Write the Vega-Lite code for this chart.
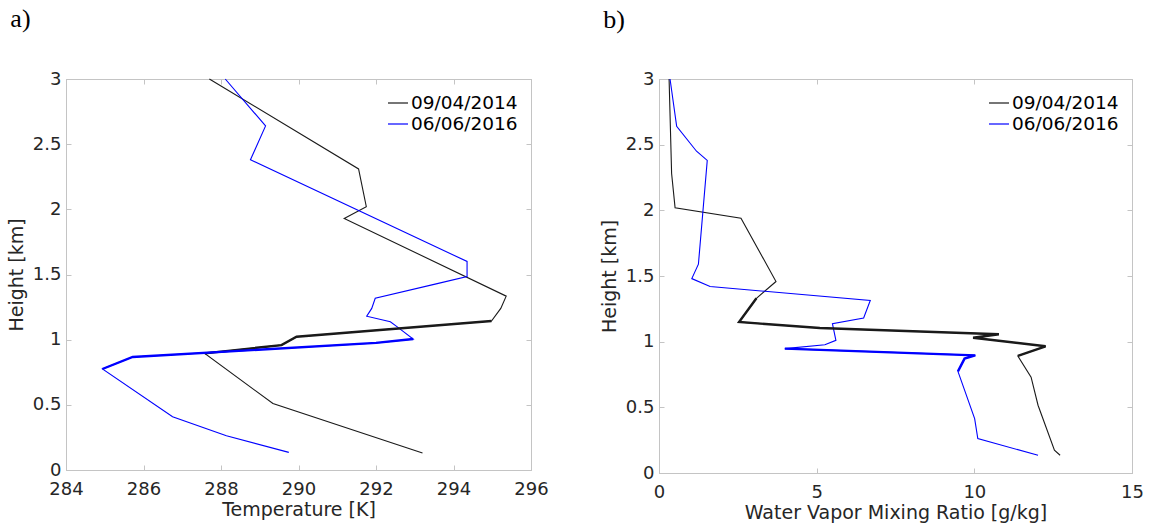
{
  "$schema": "https://vega.github.io/schema/vega-lite/v6.json",
  "background": "white",
  "padding": {"left": 6, "top": 5, "right": 5, "bottom": 5},
  "datasets": {
    "temp": [
      {"s": "09/04/2014", "t": 293.2, "h": 0.13},
      {"s": "09/04/2014", "t": 289.34, "h": 0.51},
      {"s": "09/04/2014", "t": 287.58, "h": 0.895},
      {"s": "09/04/2014", "t": 289.56, "h": 0.958},
      {"s": "09/04/2014", "t": 289.95, "h": 1.022},
      {"s": "09/04/2014", "t": 292.1, "h": 1.074},
      {"s": "09/04/2014", "t": 294.98, "h": 1.143},
      {"s": "09/04/2014", "t": 295.22, "h": 1.24},
      {"s": "09/04/2014", "t": 295.36, "h": 1.334},
      {"s": "09/04/2014", "t": 291.18, "h": 1.93},
      {"s": "09/04/2014", "t": 291.75, "h": 2.02},
      {"s": "09/04/2014", "t": 291.55, "h": 2.31},
      {"s": "09/04/2014", "t": 287.7, "h": 3.0},
      {"s": "06/06/2016", "t": 289.75, "h": 0.135},
      {"s": "06/06/2016", "t": 288.14, "h": 0.263},
      {"s": "06/06/2016", "t": 286.75, "h": 0.409},
      {"s": "06/06/2016", "t": 284.94, "h": 0.775},
      {"s": "06/06/2016", "t": 285.72, "h": 0.867},
      {"s": "06/06/2016", "t": 292.0, "h": 0.975},
      {"s": "06/06/2016", "t": 292.96, "h": 1.005},
      {"s": "06/06/2016", "t": 292.54, "h": 1.1},
      {"s": "06/06/2016", "t": 292.37, "h": 1.137},
      {"s": "06/06/2016", "t": 291.76, "h": 1.18},
      {"s": "06/06/2016", "t": 291.89, "h": 1.24},
      {"s": "06/06/2016", "t": 291.98, "h": 1.318},
      {"s": "06/06/2016", "t": 293.58, "h": 1.43},
      {"s": "06/06/2016", "t": 294.35, "h": 1.485},
      {"s": "06/06/2016", "t": 294.35, "h": 1.6},
      {"s": "06/06/2016", "t": 288.76, "h": 2.38},
      {"s": "06/06/2016", "t": 289.15, "h": 2.64},
      {"s": "06/06/2016", "t": 288.11, "h": 3.0}
    ],
    "wv": [
      {"s": "09/04/2014", "w": 12.72, "h": 0.135},
      {"s": "09/04/2014", "w": 12.54, "h": 0.173},
      {"s": "09/04/2014", "w": 12.02, "h": 0.516},
      {"s": "09/04/2014", "w": 11.8, "h": 0.73},
      {"s": "09/04/2014", "w": 11.38, "h": 0.891},
      {"s": "09/04/2014", "w": 12.26, "h": 0.965},
      {"s": "09/04/2014", "w": 9.96, "h": 1.03},
      {"s": "09/04/2014", "w": 10.78, "h": 1.056},
      {"s": "09/04/2014", "w": 5.1, "h": 1.104},
      {"s": "09/04/2014", "w": 2.54, "h": 1.15},
      {"s": "09/04/2014", "w": 3.09, "h": 1.33},
      {"s": "09/04/2014", "w": 3.71, "h": 1.458},
      {"s": "09/04/2014", "w": 2.6, "h": 1.94},
      {"s": "09/04/2014", "w": 0.51, "h": 2.02},
      {"s": "09/04/2014", "w": 0.4, "h": 2.28},
      {"s": "09/04/2014", "w": 0.32, "h": 3.0},
      {"s": "06/06/2016", "w": 12.02, "h": 0.135},
      {"s": "06/06/2016", "w": 10.11, "h": 0.262},
      {"s": "06/06/2016", "w": 10.01, "h": 0.414},
      {"s": "06/06/2016", "w": 9.48, "h": 0.774},
      {"s": "06/06/2016", "w": 9.69, "h": 0.871},
      {"s": "06/06/2016", "w": 10.03, "h": 0.896},
      {"s": "06/06/2016", "w": 3.99, "h": 0.947},
      {"s": "06/06/2016", "w": 5.26, "h": 0.977},
      {"s": "06/06/2016", "w": 5.61, "h": 1.01},
      {"s": "06/06/2016", "w": 5.5, "h": 1.137},
      {"s": "06/06/2016", "w": 6.49, "h": 1.18},
      {"s": "06/06/2016", "w": 6.7, "h": 1.314},
      {"s": "06/06/2016", "w": 1.62, "h": 1.42},
      {"s": "06/06/2016", "w": 1.04, "h": 1.48},
      {"s": "06/06/2016", "w": 1.25, "h": 1.59},
      {"s": "06/06/2016", "w": 1.53, "h": 2.38},
      {"s": "06/06/2016", "w": 1.19, "h": 2.45},
      {"s": "06/06/2016", "w": 0.56, "h": 2.64},
      {"s": "06/06/2016", "w": 0.35, "h": 3.0}
    ]
  },
  "hconcat": [
    {
      "width": 465,
      "height": 391,
      "data": {"name": "temp"},
      "title": {"text": "a)", "frame": "bounds", "anchor": "start", "offset": 38, "dx": 3},
      "layer": [
        {
          "mark": {"type": "line", "strokeWidth": 1.1},
          "encoding": {
            "x": {"field": "t", "type": "quantitative", "scale": {"domain": [284, 296], "nice": false, "zero": false},
              "axis": {"orient": "bottom", "values": [284, 286, 288, 290, 292, 294, 296], "title": "Temperature [K]"}},
            "y": {"field": "h", "type": "quantitative", "scale": {"domain": [0, 3], "nice": false},
              "axis": {"orient": "left", "values": [0, 0.5, 1, 1.5, 2, 2.5, 3], "format": "~g", "title": "Height [km]"}},
            "color": {"field": "s", "type": "nominal", "scale": {"domain": ["09/04/2014", "06/06/2016"], "range": ["#1a1a1a", "#0000ff"]}, "legend": {"title": null}},
            "order": {"field": "h", "type": "quantitative"}
          }
        },
        {
          "transform": [{"filter": "(datum.s == '09/04/2014' && datum.h >= 0.89 && datum.h <= 1.15) || (datum.s == '06/06/2016' && datum.h >= 0.77 && datum.h <= 1.01)"}],
          "mark": {"type": "line", "strokeWidth": 2.4},
          "encoding": {
            "x": {"field": "t", "type": "quantitative", "axis": null},
            "y": {"field": "h", "type": "quantitative", "axis": null},
            "color": {"field": "s", "type": "nominal", "legend": null},
            "order": {"field": "h", "type": "quantitative"}
          }
        },
        {
          "mark": {"type": "line", "opacity": 0},
          "encoding": {
            "x": {"field": "t", "type": "quantitative", "axis": {"orient": "top", "values": [284, 286, 288, 290, 292, 294, 296], "labels": false, "title": null}},
            "y": {"field": "h", "type": "quantitative", "axis": {"orient": "right", "values": [0, 0.5, 1, 1.5, 2, 2.5, 3], "labels": false, "title": null}}
          }
        }
      ],
      "resolve": {"axis": {"x": "independent", "y": "independent"}}
    },
    {
      "width": 473,
      "height": 394,
      "data": {"name": "wv"},
      "title": {"text": "b)", "frame": "bounds", "anchor": "start", "offset": 37, "dx": 3},
      "layer": [
        {
          "mark": {"type": "line", "strokeWidth": 1.1},
          "encoding": {
            "x": {"field": "w", "type": "quantitative", "scale": {"domain": [0, 15], "nice": false},
              "axis": {"orient": "bottom", "values": [0, 5, 10, 15], "title": "Water Vapor Mixing Ratio [g/kg]"}},
            "y": {"field": "h", "type": "quantitative", "scale": {"domain": [0, 3], "nice": false},
              "axis": {"orient": "left", "values": [0, 0.5, 1, 1.5, 2, 2.5, 3], "format": "~g", "title": "Height [km]"}},
            "color": {"field": "s", "type": "nominal", "scale": {"domain": ["09/04/2014", "06/06/2016"], "range": ["#1a1a1a", "#0000ff"]}, "legend": {"title": null}},
            "order": {"field": "h", "type": "quantitative"}
          }
        },
        {
          "transform": [{"filter": "(datum.s == '09/04/2014' && datum.h >= 0.88 && datum.h <= 1.34) || (datum.s == '06/06/2016' && datum.h >= 0.77 && datum.h <= 0.95)"}],
          "mark": {"type": "line", "strokeWidth": 2.4},
          "encoding": {
            "x": {"field": "w", "type": "quantitative", "axis": null},
            "y": {"field": "h", "type": "quantitative", "axis": null},
            "color": {"field": "s", "type": "nominal", "legend": null},
            "order": {"field": "h", "type": "quantitative"}
          }
        },
        {
          "mark": {"type": "line", "opacity": 0},
          "encoding": {
            "x": {"field": "w", "type": "quantitative", "axis": {"orient": "top", "values": [0, 5, 10, 15], "labels": false, "title": null}},
            "y": {"field": "h", "type": "quantitative", "axis": {"orient": "right", "values": [0, 0.5, 1, 1.5, 2, 2.5, 3], "labels": false, "title": null}}
          }
        }
      ],
      "resolve": {"axis": {"x": "independent", "y": "independent"}}
    }
  ],
  "spacing": 50,
  "resolve": {"legend": {"color": "independent"}},
  "config": {
    "font": "DejaVu Sans",
    "view": {"stroke": "#c4c4c4", "strokeWidth": 1},
    "axis": {
      "labelFont": "DejaVu Sans", "labelFontSize": 18, "labelColor": "#262626",
      "titleFont": "DejaVu Sans", "titleFontSize": 19, "titleColor": "#262626", "titleFontWeight": "normal",
      "domainColor": "#c4c4c4", "tickColor": "#c4c4c4", "tickSize": -5, "grid": false,
      "labelFlush": false
    },
    "axisX": {"labelPadding": 15, "titlePadding": 2},
    "axisY": {"labelPadding": 10, "titlePadding": 6},
    "legend": {
      "orient": "top-right", "offset": 13, "labelFont": "DejaVu Sans", "labelFontSize": 18.5, "labelColor": "#000000",
      "symbolType": "stroke", "symbolSize": 400, "symbolStrokeWidth": 1.2, "labelOffset": 2, "rowPadding": 0, "padding": 0
    },
    "title": {"font": "Liberation Serif", "fontSize": 26, "fontWeight": "normal", "color": "#000000"}
  }
}
